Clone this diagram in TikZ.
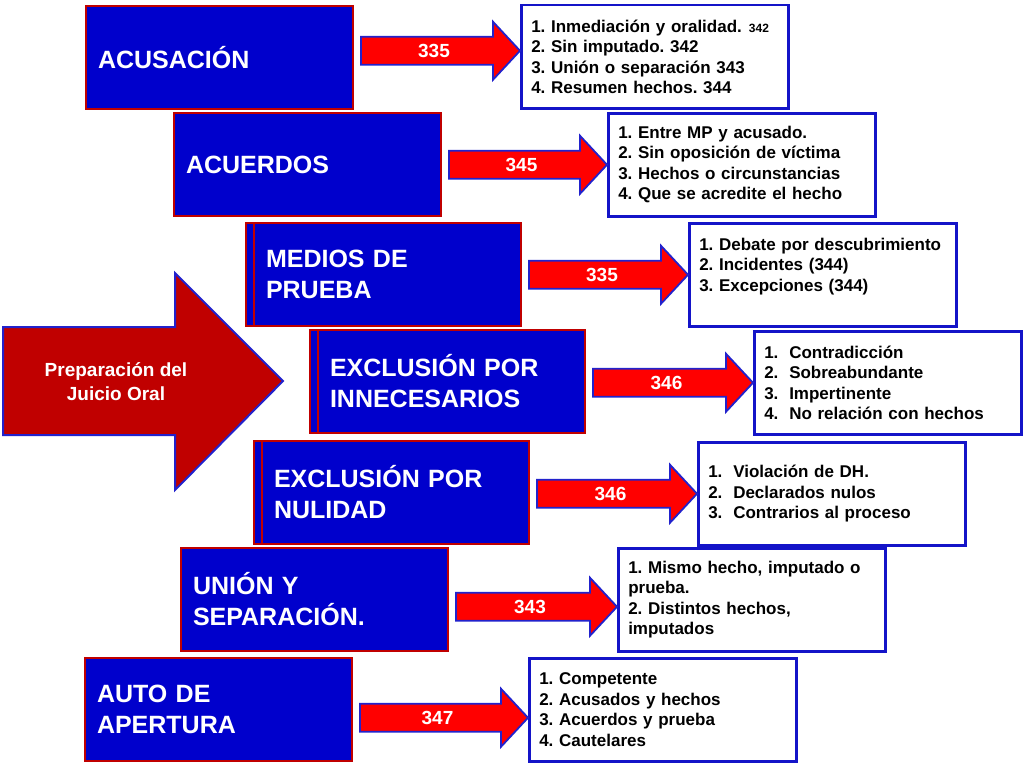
\documentclass[tikz,border=0pt]{standalone}
\usepackage{fontspec}
\setmainfont{Liberation Sans}
\usetikzlibrary{calc,shadows}

\definecolor{boxblue}{RGB}{0,0,204}
\definecolor{boxred}{RGB}{192,0,0}
\definecolor{arrowred}{RGB}{255,0,0}
\definecolor{arrowblue}{RGB}{34,34,204}
\definecolor{listblue}{RGB}{20,20,200}

\tikzset{
  titlebox/.style={fill=boxblue, draw=boxred, line width=2pt, text=white,
    anchor=north west, minimum height=103pt, text width=243pt, inner xsep=12pt,
    align=left, font=\bfseries\fontsize{25}{31}\selectfont},
  twin/.style={copy shadow={shadow xshift=-8pt, shadow yshift=0pt,
    fill=boxblue, draw=boxred, line width=2pt}},
  listbox/.style={fill=white, draw=listblue, line width=2.5pt, anchor=north west,
    minimum height=103pt, text width=247pt, inner xsep=10pt, align=left,
    font=\frenchspacing\bfseries\fontsize{17}{20.5}\selectfont},
  redarrow/.style={fill=arrowred, draw=arrowblue, line width=1.8pt},
  arrowlbl/.style={text=white, font=\bfseries\fontsize{19}{19}\selectfont},
  bigarrow/.style={fill=boxred, draw=arrowblue, line width=2pt},
}
\newcommand{\itm}[1]{\makebox[25pt][l]{#1}}

\begin{document}
\begin{tikzpicture}[x=1pt, y=-1pt]
  \useasboundingbox (0,0) rectangle (1024,768);

  % main arrow
  \draw[bigarrow] (3,327) -- (175,327) -- (175,273) -- (283,381)
    -- (175,490) -- (175,435) -- (3,435) -- cycle;
  \node[align=center, text=white, font=\bfseries\fontsize{19}{24}\selectfont]
    (prep) at (116,382) {Preparación del\\Juicio Oral};

  \node[titlebox] (b1) at (85,5) {ACUSACIÓN};
  \node[titlebox] (b2) at (173,112) {ACUERDOS};
  \node[titlebox, twin] (b3) at (253,222) {MEDIOS DE\\PRUEBA};
  \node[titlebox, twin] (b4) at (317,329) {EXCLUSIÓN POR\\INNECESARIOS};
  \node[titlebox, twin] (b5) at (261,440) {EXCLUSIÓN POR\\NULIDAD};
  \node[titlebox] (b6) at (180,547) {UNIÓN Y\\SEPARACIÓN.};
  \node[titlebox] (b7) at (84,657) {AUTO DE\\APERTURA};

  \node[listbox] (l1) at (520,4) {1. Inmediación y oralidad.\hspace{7pt}{\fontsize{12}{12}\selectfont 342}\\
    2. Sin imputado. 342\\3. Unión o separación 343\\4. Resumen hechos. 344};
  \node[listbox] (l2) at (607,112) {1. Entre MP y acusado.\\2. Sin oposición de víctima\\
    3. Hechos o circunstancias\\4. Que se acredite el hecho};
  \node[listbox] (l3) at (688,222) {1. Debate por descubrimiento\\2. Incidentes (344)\\
    3. Excepciones (344)\\\mbox{}};
  \node[listbox] (l4) at (753,330) {\itm{1.}Contradicción\\\itm{2.}Sobreabundante\\
    \itm{3.}Impertinente\\\itm{4.}No relación con hechos};
  \node[listbox] (l5) at (697,441) {\itm{1.}Violación de DH.\\\itm{2.}Declarados nulos\\
    \itm{3.}Contrarios al proceso};
  \node[listbox] (l6) at (617,547) {1. Mismo hecho, imputado o\\prueba.\\
    2. Distintos hechos,\\imputados};
  \node[listbox] (l7) at (528,657) {1. Competente\\2. Acusados y hechos\\
    3. Acuerdos y prueba\\4. Cautelares};

  \foreach \i/\dy/\num in {1/6pt/335, 2/0pt/345, 3/0pt/335, 4/0pt/346,
                           5/0pt/346, 6/-7pt/343, 7/-8pt/347} {
    \draw[redarrow] let \p1=(b\i.east), \p2=(l\i.west) in
      (\x1+7pt,\y2+\dy+14pt) -- (\x2-27pt,\y2+\dy+14pt) -- (\x2-27pt,\y2+\dy+29pt)
      -- (\x2,\y2+\dy) -- (\x2-27pt,\y2+\dy-29pt) -- (\x2-27pt,\y2+\dy-14pt)
      -- (\x1+7pt,\y2+\dy-14pt) -- cycle
      node[arrowlbl] at ({(\x1+\x2)/2-3pt},\y2+\dy) {\num};
  }
\end{tikzpicture}
\end{document}
